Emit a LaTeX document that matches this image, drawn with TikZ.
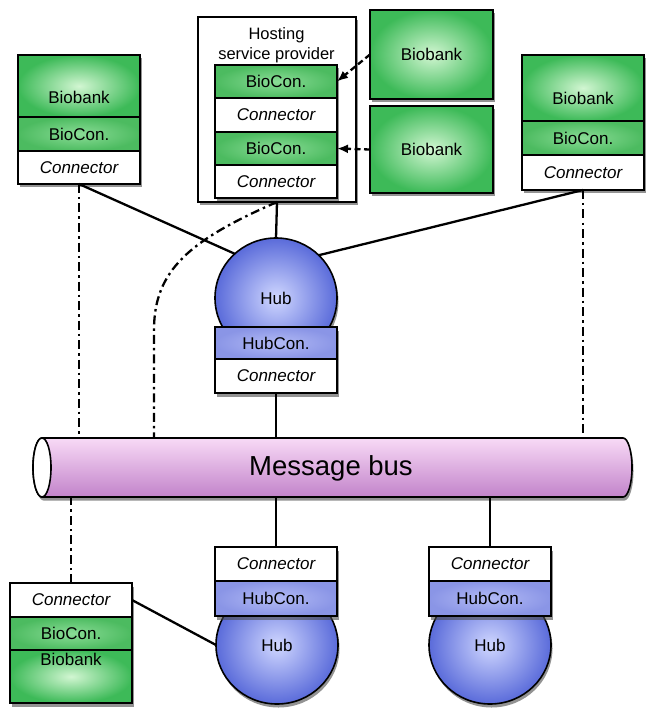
\documentclass[tikz,border=0pt]{standalone}
\usepackage{fontspec}
\setmainfont{Liberation Sans}
\usetikzlibrary{shapes.geometric,arrows.meta,shadows}

\definecolor{bankIn}{HTML}{D2F6D2}
\definecolor{bankOut}{HTML}{3DBA58}
\definecolor{bioIn}{HTML}{8ADC96}
\definecolor{bioOut}{HTML}{4CBB60}
\definecolor{hubIn}{HTML}{D0D7FF}
\definecolor{hubOut}{HTML}{5A6BDA}
\definecolor{hcIn}{HTML}{B2BAF5}
\definecolor{hcOut}{HTML}{8A95E6}
\definecolor{busTop}{HTML}{F8DAF6}
\definecolor{busBot}{HTML}{C283CA}

\begin{document}
\begin{tikzpicture}[x=1pt,y=-1pt,
  every node/.style={inner sep=0pt, outer sep=0pt, font=\fontsize{17}{20}\selectfont},
  shad/.style={drop shadow={shadow xshift=1.5pt, shadow yshift=-3.5pt, opacity=0.6, fill=black!70}},
  blk/.style={draw=black, line width=1.6pt, rectangle, minimum width=122pt, anchor=north west, shad},
  bank/.style={blk, inner color=bankIn, outer color=bankOut},
  biocon/.style={blk, minimum height=34pt, inner color=bioIn, outer color=bioOut},
  conn/.style={blk, minimum height=34pt, fill=white, font=\fontsize{17}{20}\selectfont\itshape},
  hubcon/.style={blk, minimum height=34pt, inner color=hcIn, outer color=hcOut},
  hub/.style={ellipse, draw=black, line width=1.6pt, minimum width=122pt, minimum height=120pt, inner color=hubIn, outer color=hubOut, shad},
  link/.style={line width=2.3pt},
  dd/.style={line width=2.3pt, dash pattern=on 9pt off 4pt on 2.5pt off 4pt},
  feed/.style={line width=2.3pt, dash pattern=on 6pt off 3.5pt, -{Latex[length=11pt,width=9pt]}}
]
\fill[white] (0,0) rectangle (653,719);
\useasboundingbox (0,0) rectangle (653,719);

% upper left biobank stack
\node[bank, minimum height=62pt, label={[yshift=-11pt]center:Biobank}] (ltbank) at (18,55) {};
\node[biocon] (ltbio) at (18,117) {BioCon.};
\node[conn, minimum height=33pt] (ltcon) at (18,151) {Connector};

% upper right biobank stack
\node[bank, minimum height=66pt, label={[yshift=-10pt]center:Biobank}] (rtbank) at (522,55) {};
\node[biocon] (rtbio) at (522,121) {BioCon.};
\node[conn, minimum height=35pt] (rtcon) at (522,155) {Connector};

% hosting service provider
\node[draw, line width=1.6pt, minimum width=158pt, minimum height=185pt, anchor=north west, fill=white, shad] (host) at (198,17) {};
\node[align=center, font=\fontsize{16.5}{20}\selectfont] (hostlbl) at (276.5,45) {Hosting\\service provider};
\node[biocon, minimum height=33pt] (hb1) at (215,65) {BioCon.};
\node[conn, minimum height=34pt] (hc1) at (215,98) {Connector};
\node[biocon, minimum height=33pt] (hb2) at (215,132) {BioCon.};
\node[conn, minimum height=33pt] (hc2) at (215,165) {Connector};

% hosted biobanks
\node[bank, minimum width=123pt, minimum height=89pt] (rb1) at (370,10) {Biobank};
\node[bank, minimum width=123pt, minimum height=87pt] (rb2) at (370,106) {Biobank};

% upper hub
\node[hub] (hub) at (276,298) {Hub};
\node[hubcon, minimum height=32pt] (hhc) at (215,327) {HubCon.};
\node[conn] (hcon) at (215,359) {Connector};

% message bus
\shade[top color=busTop, bottom color=busBot, draw, line width=1.6pt, shad]
  (42,438) -- (623,438) arc[start angle=-90, end angle=90, x radius=9, y radius=29.5]
  -- (42,497) arc[start angle=90, end angle=270, x radius=9, y radius=29.5] -- cycle;
\draw[fill=white, line width=1.6pt] (42,467.5) ellipse[x radius=9, y radius=29.5];
\node[minimum width=590pt, minimum height=59pt, font=\fontsize{27.5}{32}\selectfont] (bus) at (331,468) {Message bus};

% lower hubs
\node[hub, minimum height=118pt] (hubB) at (277,645) {Hub};
\node[conn] (conB) at (215,547) {Connector};
\node[hubcon, minimum height=35pt] (hcB) at (215,581) {HubCon.};
\node[hub, minimum height=118pt] (hubC) at (490,645) {Hub};
\node[conn] (conC) at (429,547) {Connector};
\node[hubcon, minimum height=35pt] (hcC) at (429,581) {HubCon.};

% lower left biobank stack
\node[conn] (blcon) at (10,583) {Connector};
\node[biocon, minimum height=33pt] (blbio) at (10,617) {BioCon.};
\node[bank, minimum height=53pt, label={[anchor=north, yshift=-3pt]north:Biobank}] (blbank) at (10,650) {};

% connections
\coordinate (ddend) at (154,438);
\draw[feed] (rb1.west) -- (hb1.east);
\draw[feed] (rb2.west) -- (hb2.east);
\draw[link] (host.south) -- (hub.north);
\draw[link] (ltcon.south) -- (hub.133);
\draw[link] (rtcon.south) -- (hub.45);
\draw[link] (hcon.south) -- (hcon.south |- bus.north);
\draw[dd] (ltcon.south) -- (ltcon.south |- bus.north);
\draw[dd] (rtcon.south) -- (rtcon.south |- bus.north);
\draw[dd] (host.south) .. controls (190,240) and (154,270) .. (154,330) -- (ddend);
\draw[link] (conB.north) -- (conB.north |- bus.south);
\draw[link] (conC.north) -- (conC.north |- bus.south);
\draw[dd] (blcon.north) -- (blcon.north |- bus.south);
\draw[link] (blcon.east) -- (hubB.west);
\end{tikzpicture}
\end{document}
